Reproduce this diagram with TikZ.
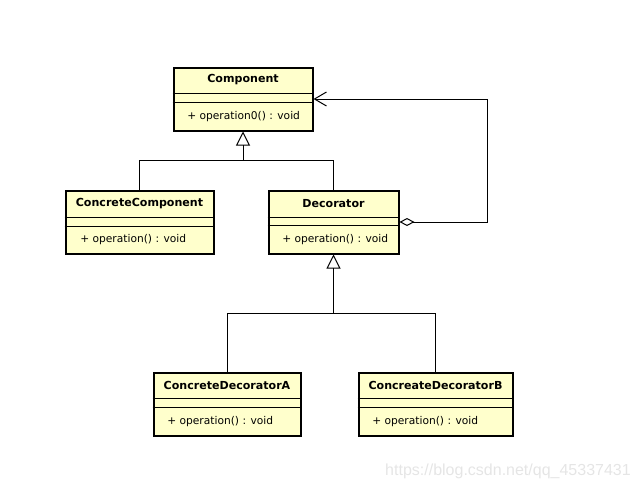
\documentclass[tikz,border=0pt]{standalone}
\usepackage{fontspec}
\setmainfont{DejaVu Sans}
\newfontfamily\markfont{Liberation Sans}
\usetikzlibrary{arrows.meta}
\definecolor{umlfill}{RGB}{255,255,204}
\newdimen\px
\px=0.75pt

\begin{document}
\begin{tikzpicture}[x=0.75pt,y=-0.75pt,
		classbox/.style={draw, line width=1.5pt, fill=umlfill, minimum height=63\px},
		classname/.style={font=\fontsize{8.3}{10}\selectfont\bfseries, inner sep=0pt},
		classop/.style={font=\fontsize{8}{10}\selectfont, anchor=west, inner sep=0pt},
		part/.style={line width=0.75pt},
		link/.style={line width=0.75pt},
		gen/.style={link, -{Triangle[open, length=10.5pt, width=10.5pt]}},
		agg/.style={link, {Diamond[open, length=11.25pt, width=6pt]}-{Straight Barb[length=9pt, width=10.5pt]}}]
		\useasboundingbox (0,0) rectangle (638,493);

		%% Component
		\node[classbox, minimum width=139\px] at (243,99)(comp){};
		\node[classname] at (243,80)(compname){Component};
		\node[classop] at (187,116.5)(compop){+ operation0() : void};
		\draw[part] (comp.west |- 0,93)--(comp.east |- 0,93);
		\draw[part] (comp.west |- 0,102)--(comp.east |- 0,102);

		%% ConcreteComponent
		\node[classbox, minimum width=148\px] at (139.5,222)(ccomp){};
		\node[classname] at (139.5,203.5)(ccompname){ConcreteComponent};
		\node[classop] at (80,240)(ccompop){+ operation() : void};
		\draw[part] (ccomp.west |- 0,217)--(ccomp.east |- 0,217);
		\draw[part] (ccomp.west |- 0,226)--(ccomp.east |- 0,226);

		%% Decorator
		\node[classbox, minimum width=130\px] at (333.5,222)(deco){};
		\node[classname] at (333.5,203.5)(deconame){Decorator};
		\node[classop] at (282,239.5)(decoop){+ operation() : void};
		\draw[part] (deco.west |- 0,217)--(deco.east |- 0,217);
		\draw[part] (deco.west |- 0,225)--(deco.east |- 0,225);

		%% ConcreteDecoratorA
		\node[classbox, minimum width=147\px] at (227,404)(decoA){};
		\node[classname] at (227,385)(decoAname){ConcreteDecoratorA};
		\node[classop] at (167,421.5)(decoAop){+ operation() : void};
		\draw[part] (decoA.west |- 0,398)--(decoA.east |- 0,398);
		\draw[part] (decoA.west |- 0,407)--(decoA.east |- 0,407);

		%% ConcreateDecoratorB
		\node[classbox, minimum width=154\px] at (435.5,404)(decoB){};
		\node[classname] at (435.5,385)(decoBname){ConcreateDecoratorB};
		\node[classop] at (372,421.5)(decoBop){+ operation() : void};
		\draw[part] (decoB.west |- 0,398)--(decoB.east |- 0,398);
		\draw[part] (decoB.west |- 0,407)--(decoB.east |- 0,407);

		%% generalisations
		\coordinate (j1) at (243,160);
		\coordinate (j2) at (335,313);
		\draw[link] (ccomp.north)--(ccomp.north |- j1)--(deco.north |- j1)--(deco.north);
		\draw[gen] (comp.south |- j1)--(comp.south);
		\draw[link] (decoA.north)--(decoA.north |- j2)--(decoB.north |- j2)--(decoB.north);
		\draw[gen] (deco.south |- j2)--(deco.south);

		%% aggregation back to Component
		\coordinate (loop) at (487,0);
		\draw[agg] (deco.east)--(deco.east -| loop) |- (comp.east);

		%% watermark
		\node[font=\markfont\fontsize{12}{14}\selectfont, text=black!10, inner sep=0pt] at (508,471)(mark){https://blog.csdn.net/qq\_45337431};
\end{tikzpicture}
\end{document}
